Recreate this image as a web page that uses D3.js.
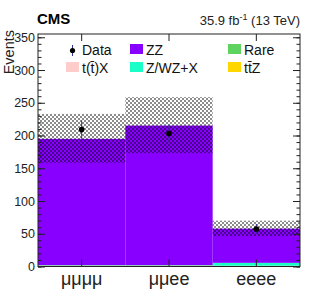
<!DOCTYPE html>
<html>
<head>
<meta charset="utf-8">
<script src="https://cdn.jsdelivr.net/npm/d3@7"></script>
<style>
  body { margin: 0; background: #fff; }
  svg { font-family: "Liberation Sans", Helvetica, Arial, sans-serif; }
</style>
</head>
<body>
<svg width="316" height="303"></svg>
<script>
const channels = ["μμμμ", "μμee", "eeee"];

// stacked backgrounds, bottom to top
const ttZ   = [0.8, 0.8, 0.5];
const rare  = [0.8, 0.8, 0.6];
const ttX   = [0.2, 0.2, 0.1];
const zwzx  = [0.3, 0.3, 4.4];
const zz    = [192.8, 213.1, 52.2];

const bandLow  = [158.6, 173.0, 46.6];
const bandHigh = [233.0, 258.6, 70.0];

const dataVal = [209, 203, 57.3];
const dataErr = [14, 14, 7.5];

const yTicks = [0, 50, 100, 150, 200, 250, 300, 350];

const svg = d3.select("svg"),
    width = +svg.attr("width"),
    height = +svg.attr("height");

const fLeft = 38, fRight = 300, fTop = 34, fBottom = 266.5;

const x = d3.scaleBand().domain(channels).range([fLeft, fRight]).padding(0);
const y = d3.scaleLinear().domain([0, 355]).range([fBottom, fTop]);

// checkered hatch for the uncertainty band
const defs = svg.append("defs");
const pat = defs.append("pattern")
    .attr("id", "hatch")
    .attr("patternUnits", "userSpaceOnUse")
    .attr("width", 4).attr("height", 4);
pat.append("rect").attr("x", 0).attr("y", 0).attr("width", 2).attr("height", 2).attr("fill", "#000").attr("fill-opacity", 0.45);
pat.append("rect").attr("x", 2).attr("y", 2).attr("width", 2).attr("height", 2).attr("fill", "#000").attr("fill-opacity", 0.45);

const series = [
  { name: "ttZ", vals: ttZ, color: "#ffd700" },
  { name: "Rare", vals: rare, color: "#5fd35f" },
  { name: "ttX", vals: ttX, color: "#ffcccc" },
  { name: "ZWZX", vals: zwzx, color: "#1affc8" },
  { name: "ZZ", vals: zz, color: "#8800ff" }
];

// stack
const base = channels.map(() => 0);
const gStack = svg.append("g").attr("class", "stack");
series.forEach(s => {
  gStack.selectAll(null)
    .data(channels)
    .enter().append("rect")
    .attr("x", c => x(c))
    .attr("width", x.bandwidth())
    .attr("y", (c, i) => y(base[i] + s.vals[i]))
    .attr("height", (c, i) => y(base[i]) - y(base[i] + s.vals[i]))
    .attr("fill", s.color);
  channels.forEach((c, i) => base[i] += s.vals[i]);
});

// uncertainty band
svg.append("g").selectAll("rect")
  .data(channels)
  .enter().append("rect")
  .attr("x", c => x(c))
  .attr("width", x.bandwidth())
  .attr("y", (c, i) => y(bandHigh[i]))
  .attr("height", (c, i) => y(bandLow[i]) - y(bandHigh[i]))
  .attr("fill", "url(#hatch)");

// axes, ROOT style ticks pointing inward
const minorTicks = d3.range(0, 351, 10);

function styleAxis(g) {
  g.select(".domain").remove();
  g.selectAll("line").attr("stroke", "#222");
  g.selectAll("text").attr("font-size", 12.5).attr("fill", "#222");
}

svg.append("g")
  .attr("transform", `translate(${fLeft},0)`)
  .call(d3.axisLeft(y).tickValues(yTicks).tickSize(-7).tickPadding(3))
  .call(styleAxis);
svg.append("g")
  .attr("transform", `translate(${fLeft},0)`)
  .call(d3.axisLeft(y).tickValues(minorTicks).tickSize(-3.5).tickFormat(""))
  .call(styleAxis);
svg.append("g")
  .attr("transform", `translate(${fRight},0)`)
  .call(d3.axisRight(y).tickValues(yTicks).tickSize(-7).tickFormat(""))
  .call(styleAxis);
svg.append("g")
  .attr("transform", `translate(${fRight},0)`)
  .call(d3.axisRight(y).tickValues(minorTicks).tickSize(-3.5).tickFormat(""))
  .call(styleAxis);

svg.append("g")
  .attr("transform", `translate(0,${fBottom})`)
  .call(d3.axisBottom(x).tickSize(-7).tickPadding(6))
  .call(styleAxis)
  .call(g => g.selectAll("text").attr("font-size", 18).attr("dy", "0.72em"));
svg.append("g")
  .attr("transform", `translate(0,${fTop})`)
  .call(d3.axisTop(x).tickSize(-7).tickFormat(""))
  .call(styleAxis);

// frame
svg.append("rect")
  .attr("x", fLeft).attr("y", fTop)
  .attr("width", fRight - fLeft).attr("height", fBottom - fTop)
  .attr("fill", "none").attr("stroke", "#222").attr("stroke-width", 1);

// data points
const gData = svg.append("g");
gData.selectAll("line")
  .data(channels)
  .enter().append("line")
  .attr("x1", c => x(c) + x.bandwidth() / 2)
  .attr("x2", c => x(c) + x.bandwidth() / 2)
  .attr("y1", (c, i) => y(dataVal[i] - dataErr[i]))
  .attr("y2", (c, i) => y(dataVal[i] + dataErr[i]))
  .attr("stroke", "#33338a").attr("stroke-width", 1);
gData.selectAll("circle")
  .data(channels)
  .enter().append("circle")
  .attr("cx", c => x(c) + x.bandwidth() / 2)
  .attr("cy", (c, i) => y(dataVal[i]))
  .attr("r", 2.8)
  .attr("fill", "#000");

// legend
const leg = svg.append("g").attr("font-size", 14).attr("fill", "#111");
const legItems = [
  { label: "Data", col: 0, row: 0, data: true },
  { label: "ZZ", col: 1, row: 0, color: "#8800ff" },
  { label: "Rare", col: 2, row: 0, color: "#5fd35f" },
  { label: "t(t̄)X", col: 0, row: 1, color: "#ffcccc" },
  { label: "Z/WZ+X", col: 1, row: 1, color: "#1affc8" },
  { label: "tt̄Z", col: 2, row: 1, color: "#ffd700" }
];
const colX = [66, 130, 228], rowY = [44, 62];
legItems.forEach(d => {
  const bx = colX[d.col], by = rowY[d.row];
  if (d.data) {
    leg.append("line").attr("x1", bx + 6.5).attr("x2", bx + 6.5)
      .attr("y1", by + 1).attr("y2", by + 12).attr("stroke", "#33338a");
    leg.append("circle").attr("cx", bx + 6.5).attr("cy", by + 6.5).attr("r", 2.6).attr("fill", "#000");
  } else {
    leg.append("rect").attr("x", bx).attr("y", by).attr("width", 13).attr("height", 10).attr("fill", d.color);
  }
  leg.append("text").attr("x", bx + 16).attr("y", by + 10.5).text(d.label);
});

// headers
svg.append("text")
  .attr("x", 37).attr("y", 24)
  .attr("font-size", 15).attr("font-weight", "bold")
  .text("CMS");
const lumi = svg.append("text")
  .attr("x", fRight).attr("y", 25)
  .attr("text-anchor", "end")
  .attr("font-size", 13).attr("fill", "#222");
lumi.append("tspan").text("35.9 fb");
lumi.append("tspan").attr("font-size", 9).attr("dy", -5).text("-1");
lumi.append("tspan").attr("dy", 5).text(" (13 TeV)");

svg.append("text")
  .attr("transform", "translate(14,30) rotate(-90)")
  .attr("text-anchor", "end")
  .attr("font-size", 14.5).attr("fill", "#222")
  .text("Events");
</script>
</body>
</html>
